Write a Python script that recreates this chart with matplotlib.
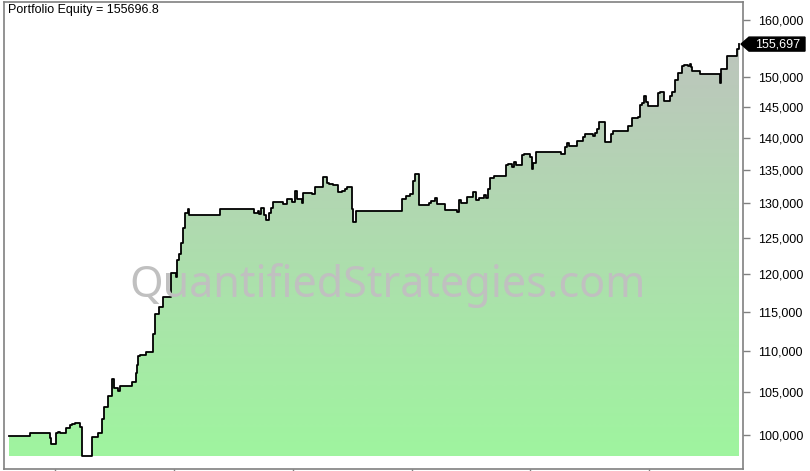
import matplotlib
matplotlib.use("Agg")
import matplotlib.pyplot as plt
import numpy as np
from matplotlib.patches import Polygon
from matplotlib.ticker import FixedLocator, FuncFormatter, NullFormatter

# bar index where equity changes, and equity level from that bar on
bars = [0, 21, 41, 42, 47, 49, 51, 57, 61, 63, 66, 71, 73, 83, 89, 93, 95, 99, 103, 105,
        109, 111, 123, 127, 128, 129, 131, 137, 144, 146, 150, 154, 162, 167, 168, 170,
        172, 174, 176, 179, 180, 211, 245, 249, 250, 252, 255, 257, 260, 262, 264, 274,
        278, 283, 286, 288, 293, 294, 303, 306, 314, 318, 320, 324, 329, 333, 336, 338,
        343, 344, 347, 393, 397, 401, 404, 406, 410, 420, 422, 426, 428, 436, 448, 450,
        452, 458, 464, 467, 470, 475, 477, 479, 481, 485, 497, 499, 503, 505, 507, 513,
        515, 521, 523, 524, 527, 552, 556, 558, 560, 568, 574, 576, 584, 586, 588, 590,
        596, 602, 604, 619, 623, 629, 631, 633, 635, 637, 639, 649, 651, 655, 657, 661,
        663, 666, 669, 673, 675, 679, 681, 682, 683, 691, 711, 712, 714, 718, 728, 730]
equity = [99900, 100200, 99660, 98990, 100260, 100370, 100260, 100800, 101100, 101250,
          101330, 100940, 97680, 99740, 100260, 101790, 103190, 104520, 106510, 105430,
          105110, 105670, 106150, 107270, 108250, 109360, 109450, 109860, 112120, 114690,
          115640, 116960, 120180, 119640, 121920, 122710, 124250, 126380, 128540, 129130,
          128300, 129130, 128630, 128920, 128440, 129360, 128300, 127570, 128540, 129360,
          130240, 129860, 130600, 130240, 131880, 130600, 130010, 131490, 131340, 132480,
          133980, 132990, 132840, 132730, 131680, 131830, 132090, 132480, 129130, 127330,
          128880, 130600, 131040, 131340, 133330, 134350, 129710, 130010, 130350, 130840,
          129860, 129030, 128730, 130490, 130010, 130980, 131640, 130490, 130750, 131280,
          130750, 132090, 133740, 134050, 135770, 135880, 135510, 136190, 135730, 137370,
          137470, 136960, 135110, 136030, 137740, 137470, 138520, 139150, 138730, 139560,
          140100, 140580, 140310, 140740, 141470, 142500, 139310, 140580, 141070, 141860,
          143150, 143290, 145320, 145600, 146860, 145860, 145160, 147310, 147430, 146030,
          145930, 146810, 147430, 149440, 150630, 151880, 152000, 151880, 152230, 151660,
          150980, 150510, 148940, 151320, 151420, 153560, 154890, 155697]
last_bar = 730
final_equity = 155696.8

# 155,000 is hidden behind the last-value tag in the original
y_ticks = [100000, 105000, 110000, 115000, 120000, 125000, 130000, 135000,
           140000, 145000, 150000, 160000]
x_ticks = [46, 165, 284, 403, 521, 640]

W, H = 810, 471
fig = plt.figure(figsize=(W / 100, H / 100), dpi=100)
ax = fig.add_axes([4 / W, 2 / H, 739 / W, 467 / H])
ax.set_yscale("log")
ax.set_xlim(-5, 734)
ax.set_ylim(96220, 163300)

xs = np.array(bars + [last_bar], dtype=float)
ys = np.array(equity + [equity[-1]], dtype=float)
base = ys.min()

# gradient fill under the step line
px = np.repeat(xs, 2)[1:]
py = np.repeat(ys, 2)[:-1]
verts = np.column_stack([np.r_[px, px[-1], px[0]], np.r_[py, base, base]])
clip = Polygon(verts, closed=True, transform=ax.transData, facecolor="none", edgecolor="none")
ax.add_patch(clip)
top_c = np.array([192, 192, 192]) / 255
bot_c = np.array([158, 246, 158]) / 255
t = np.linspace(0, 1, 256)[:, None]
grad = (top_c * (1 - t) + bot_c * t)[:, None, :]
img = ax.imshow(grad, extent=[-5, 734, 0, 1], transform=ax.get_xaxis_transform(),
                aspect="auto", origin="upper", zorder=1, interpolation="bilinear")
img.set_clip_path(clip)
ax.set_xlim(-5, 734)
ax.set_ylim(96220, 163300)

ax.step(xs, ys, where="post", color="black", lw=1.3, zorder=3)

# axes styling
for s in ax.spines.values():
    s.set_color("#808080")
    s.set_linewidth(1.2)
ax.yaxis.tick_right()
ax.yaxis.set_major_locator(FixedLocator(y_ticks))
ax.yaxis.set_minor_locator(FixedLocator([]))
ax.yaxis.set_major_formatter(FuncFormatter(lambda v, p: f"{int(round(v)):,}"))
ax.yaxis.set_minor_formatter(NullFormatter())
ax.tick_params(axis="y", which="major", length=5, width=1, color="#808080", pad=6,
               labelsize=9, labelcolor="black")
ax.xaxis.set_major_locator(FixedLocator(x_ticks))
ax.xaxis.set_major_formatter(NullFormatter())
ax.tick_params(axis="x", length=5, width=1, color="#808080")
for lbl in ax.get_yticklabels():
    lbl.set_family("Liberation Sans")

ax.text(0.006, 0.995, f"Portfolio Equity = {final_equity}", transform=ax.transAxes,
        ha="left", va="top", fontsize=9, family="Liberation Sans", color="black")

# watermark
fig.text(388 / W, 1 - 285 / H, "QuantifiedStrategies.com", ha="center", va="center",
         fontsize=31, color="#c0c0c0", family="Noto Sans", zorder=10)

# last value tag on the right axis
ax.figure.canvas.draw()
yd = ax.transData.transform((0, final_equity))[1]
xd = ax.transAxes.transform((1, 0))[0]
hh = 7
tag = np.array([[xd - 2, yd], [xd + 6, yd + hh], [xd + 62, yd + hh],
                [xd + 62, yd - hh], [xd + 6, yd - hh]])
tag = fig.transFigure.inverted().transform(tag)
fig.patches.append(Polygon(tag, closed=True, transform=fig.transFigure,
                           facecolor="black", edgecolor="black", zorder=5))
fig.text((xd + 35) / W, yd / H, f"{round(final_equity):,}", ha="center", va="center",
         fontsize=9, color="white", family="Liberation Sans", zorder=6)

fig.savefig("out.png", dpi=100, facecolor="white")
